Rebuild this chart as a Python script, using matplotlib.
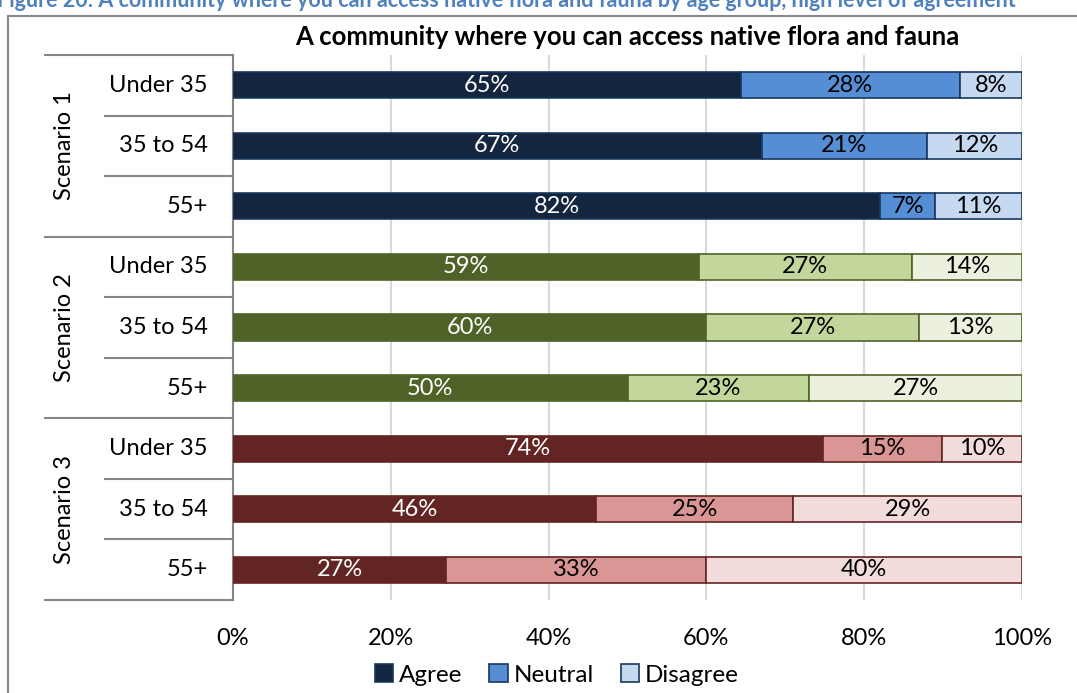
import numpy as np
import matplotlib.pyplot as plt
from matplotlib.lines import Line2D
from matplotlib.patches import Patch

plt.rcParams['font.family'] = ['Lato', 'DejaVu Sans']

scenarios = ['Scenario 1', 'Scenario 2', 'Scenario 3']
ages = ['Under 35', '35 to 54', '55+']
series = ['Agree', 'Neutral', 'Disagree']

agree = [65, 67, 82, 59, 60, 50, 74, 46, 27]
neutral = [28, 21, 7, 27, 27, 23, 15, 25, 33]
disagree = [8, 12, 11, 14, 13, 27, 10, 29, 40]

# colours per scenario: agree, neutral, disagree, edge
palette = [
    ['#14263F', '#558ED5', '#C6D9F1', '#17375E'],
    ['#4F6228', '#C3D69B', '#EBF1DE', '#4F6228'],
    ['#632523', '#D99694', '#F2DCDB', '#632523'],
]

W, H = 1077, 693
fig = plt.figure(figsize=(W / 100, H / 100), dpi=100)
ax = fig.add_axes([233 / W, 1 - 600 / H, (1022 - 233) / W, (600 - 55) / H])

vals = np.array([agree, neutral, disagree], dtype=float)
frac = vals / vals.sum(axis=0)
n = len(agree)
y = np.arange(n)

for i in range(n):
    cols = palette[i // 3]
    left = 0.0
    for k in range(3):
        w = frac[k, i]
        ax.barh(y[i], w, left=left, height=0.43, color=cols[k],
                edgecolor=cols[3], linewidth=1.2, zorder=3)
        ax.text(left + w / 2, y[i], f'{int(vals[k, i])}%', ha='center', va='center',
                fontsize=17, color='white' if k == 0 else 'black', zorder=4)
        left += w

ax.set_xlim(0, 1)
ax.set_ylim(n - 0.5, -0.5)
ax.set_xticks(np.linspace(0, 1, 6))
ax.set_xticklabels([f'{p}%' for p in range(0, 101, 20)], fontsize=17)
ax.tick_params(axis='x', length=0, pad=20)
ax.set_yticks([])
ax.grid(axis='x', color='#D9D9D9', linewidth=1.5, zorder=0)
for s in ['top', 'right', 'bottom']:
    ax.spines[s].set_visible(False)
ax.spines['left'].set_color('#868686')
ax.spines['left'].set_linewidth(1.5)

# multi-level category axis
tr = ax.get_yaxis_transform()
for i in range(n):
    ax.text(-0.032, y[i], ages[i % 3], transform=tr, ha='right', va='center', fontsize=17)
for g in range(3):
    ax.text(-0.213, g * 3 + 1, scenarios[g], transform=tr, ha='center', va='center',
            rotation=90, fontsize=17)
for b in range(n + 1):
    x0 = -0.238 if b % 3 == 0 else -0.162
    ax.add_line(Line2D([x0, 0], [b - 0.5, b - 0.5], transform=tr, color='#868686',
                       linewidth=1.5, clip_on=False))

fig.text((233 + 1022) / 2 / W, 1 - 37 / H, 'A community where you can access native flora and fauna',
         ha='center', va='center', fontsize=18.5, fontweight='bold')

fig.text(-0.003, 1 - 7 / H,
         'Figure 20: A community where you can access native flora and fauna by age group, high level of agreement',
         ha='left', va='baseline', fontsize=15.5, fontweight='bold', color='#4F81BD')

# chart border
fig.add_artist(Line2D([8 / W, 8 / W], [0, 1 - 16 / H], color='#898989', linewidth=1.5))
fig.add_artist(Line2D([8 / W, 1], [1 - 16 / H, 1 - 16 / H], color='#898989', linewidth=1.5))

handles = [Patch(facecolor=palette[0][k], edgecolor=palette[0][3], linewidth=1.2) for k in range(3)]
fig.legend(handles, series, loc='center', bbox_to_anchor=(557 / W, 1 - 675 / H), ncol=3,
           frameon=False, fontsize=17.5, handlelength=0.75, handleheight=0.75,
           handletextpad=0.25, columnspacing=1.1)

fig.savefig('out.png', dpi=100)
